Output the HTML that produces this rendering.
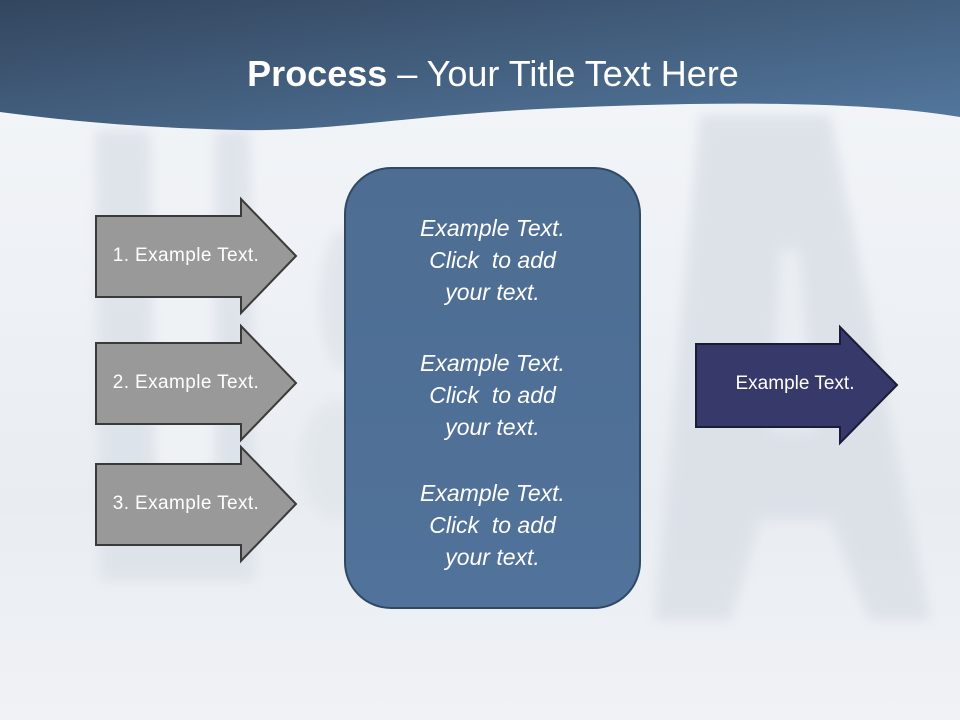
<!DOCTYPE html>
<html><head><meta charset="utf-8"><style>
html,body{margin:0;padding:0}
body{width:960px;height:720px;overflow:hidden;position:relative;font-family:"Liberation Sans",sans-serif;background:#eef1f5}
svg{position:absolute;left:0;top:0}
.t{position:absolute;color:#fff;text-align:center}
</style></head><body>
<svg width="960" height="720" viewBox="0 0 960 720">
<defs>
<linearGradient id="bg" x1="0" y1="0" x2="0" y2="1">
<stop offset="0" stop-color="#f4f6f9"/><stop offset="0.7" stop-color="#e9edf2"/><stop offset="1" stop-color="#f0f2f5"/></linearGradient>
<linearGradient id="hd" x1="0" y1="0" x2="1" y2="1">
<stop offset="0" stop-color="#33465e"/><stop offset="1" stop-color="#5479a0"/></linearGradient>
<linearGradient id="bx" x1="0" y1="0" x2="0" y2="1">
<stop offset="0" stop-color="#4d6d92"/><stop offset="1" stop-color="#51729a"/></linearGradient>
<filter id="bl"><feGaussianBlur stdDeviation="6"/></filter>
</defs>
<rect width="960" height="720" fill="url(#bg)"/>
<g filter="url(#bl)" opacity="0.8">
<path d="M95 130 L250 130 L255 580 L100 580 Z" fill="#dbe1e8"/>
<path d="M150 130 L215 130 L215 470 L155 470 Z" fill="#f0f3f6"/>
<path d="M700 115 L830 115 L930 620 L870 620 L830 520 L760 520 L730 620 L655 620 Z" fill="#d9dfe6"/>
<path d="M780 250 L800 250 L815 430 L770 430 Z" fill="#eaedf2"/>
<ellipse cx="345" cy="300" rx="25" ry="70" fill="#dfe4ea"/>
<ellipse cx="340" cy="460" rx="40" ry="60" fill="#e1e6eb"/>
</g>
<path d="M0 0 H960 V117 C860 100 700 102 560 108 C420 114 330 132 240 130 C140 128 60 120 0 112 Z" fill="url(#hd)"/>
<rect x="345" y="168" width="295" height="440" rx="46" fill="url(#bx)" stroke="#2f4864" stroke-width="2"/>
<g fill="#999999" stroke="#3a3a3a" stroke-width="2">
<path d="M96 216 H241 V199 L296 256 L241 313 V297 H96 Z"/>
<path d="M96 343 H241 V326 L296 383 L241 440 V424 H96 Z"/>
<path d="M96 464 H241 V447 L296 504 L241 561 V545 H96 Z"/>
</g>
<path d="M696 344 H840 V327 L897 385 L840 443 V427 H696 Z" fill="#37396a" stroke="#1a1c3a" stroke-width="2"/>
</svg>
<div class="t" style="left:0;width:986px;top:51px;font-size:36px;line-height:46px"><b>Process</b> – Your Title Text Here</div>
<div class="t" style="left:88px;width:196px;top:244px;font-size:19px;line-height:24px;letter-spacing:0.4px">1. Example Text.</div>
<div class="t" style="left:88px;width:196px;top:371px;font-size:19px;line-height:24px;letter-spacing:0.4px">2. Example Text.</div>
<div class="t" style="left:88px;width:196px;top:492px;font-size:19px;line-height:24px;letter-spacing:0.4px">3. Example Text.</div>
<div class="t" style="left:695px;width:200px;top:372px;font-size:19px;line-height:24px">Example Text.</div>
<div class="t" style="left:345px;width:295px;top:212px;font-size:23px;line-height:32px;font-style:italic">Example Text.<br>Click&nbsp; to add<br>your text.</div>
<div class="t" style="left:345px;width:295px;top:347px;font-size:23px;line-height:32px;font-style:italic">Example Text.<br>Click&nbsp; to add<br>your text.</div>
<div class="t" style="left:345px;width:295px;top:477px;font-size:23px;line-height:32px;font-style:italic">Example Text.<br>Click&nbsp; to add<br>your text.</div>
</body></html>
